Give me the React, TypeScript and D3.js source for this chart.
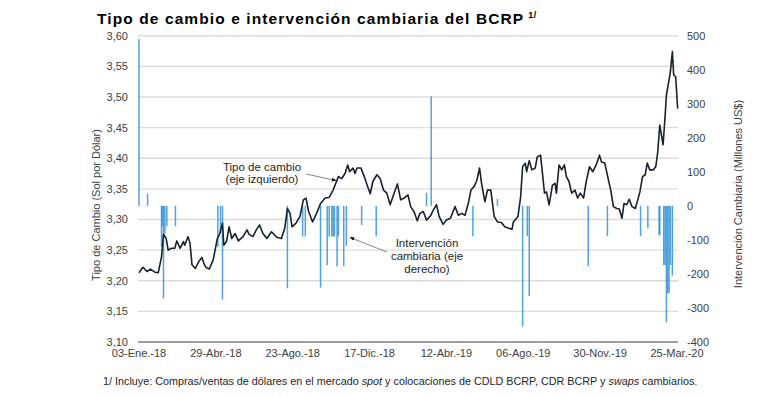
import React from "react";
import * as d3 from "d3";

// Tipo de cambio (Sol por Dólar) – eje izquierdo
const rateData: [string, number][] = [
  ["2018-01-03", 3.213], ["2018-01-09", 3.222], ["2018-01-15", 3.215], ["2018-01-20", 3.219],
  ["2018-01-27", 3.214], ["2018-02-01", 3.213], ["2018-02-06", 3.239], ["2018-02-09", 3.276],
  ["2018-02-13", 3.269], ["2018-02-16", 3.25], ["2018-02-21", 3.253], ["2018-02-26", 3.253],
  ["2018-03-01", 3.265], ["2018-03-06", 3.253], ["2018-03-11", 3.264], ["2018-03-13", 3.258],
  ["2018-03-18", 3.272], ["2018-03-21", 3.261], ["2018-03-24", 3.226], ["2018-03-29", 3.22],
  ["2018-04-03", 3.231], ["2018-04-08", 3.238], ["2018-04-11", 3.228], ["2018-04-14", 3.222],
  ["2018-04-19", 3.219], ["2018-04-25", 3.234], ["2018-05-01", 3.268], ["2018-05-05", 3.277],
  ["2018-05-09", 3.294], ["2018-05-11", 3.258], ["2018-05-15", 3.264], ["2018-05-19", 3.288],
  ["2018-05-23", 3.269], ["2018-05-28", 3.277], ["2018-06-02", 3.265], ["2018-06-09", 3.272],
  ["2018-06-15", 3.283], ["2018-06-18", 3.276], ["2018-06-24", 3.272], ["2018-06-29", 3.283],
  ["2018-07-04", 3.291], ["2018-07-09", 3.277], ["2018-07-15", 3.269], ["2018-07-22", 3.28],
  ["2018-07-30", 3.271], ["2018-08-06", 3.269], ["2018-08-11", 3.286], ["2018-08-15", 3.318],
  ["2018-08-19", 3.31], ["2018-08-22", 3.288], ["2018-08-28", 3.294], ["2018-09-03", 3.305],
  ["2018-09-08", 3.332], ["2018-09-12", 3.335], ["2018-09-16", 3.313], ["2018-09-22", 3.296],
  ["2018-09-28", 3.31], ["2018-10-04", 3.326], ["2018-10-11", 3.335], ["2018-10-17", 3.336],
  ["2018-10-23", 3.348], ["2018-10-31", 3.37], ["2018-11-05", 3.367], ["2018-11-10", 3.375],
  ["2018-11-14", 3.389], ["2018-11-17", 3.378], ["2018-11-22", 3.384], ["2018-11-25", 3.375],
  ["2018-11-28", 3.384], ["2018-12-04", 3.384], ["2018-12-09", 3.37], ["2018-12-14", 3.354],
  ["2018-12-18", 3.342], ["2018-12-22", 3.362], ["2018-12-28", 3.373], ["2019-01-02", 3.367],
  ["2019-01-07", 3.348], ["2019-01-12", 3.343], ["2019-01-17", 3.324], ["2019-01-23", 3.343],
  ["2019-01-28", 3.358], ["2019-02-02", 3.332], ["2019-02-07", 3.335], ["2019-02-13", 3.34],
  ["2019-02-17", 3.321], ["2019-02-22", 3.313], ["2019-02-27", 3.298], ["2019-03-03", 3.31],
  ["2019-03-08", 3.313], ["2019-03-13", 3.299], ["2019-03-19", 3.306], ["2019-03-23", 3.315],
  ["2019-03-28", 3.324], ["2019-04-01", 3.305], ["2019-04-07", 3.292], ["2019-04-12", 3.299],
  ["2019-04-18", 3.302], ["2019-04-25", 3.321], ["2019-04-30", 3.307], ["2019-05-05", 3.31],
  ["2019-05-10", 3.307], ["2019-05-15", 3.326], ["2019-05-19", 3.348], ["2019-05-24", 3.354],
  ["2019-05-28", 3.364], ["2019-06-01", 3.384], ["2019-06-04", 3.359], ["2019-06-09", 3.329],
  ["2019-06-13", 3.348], ["2019-06-18", 3.348], ["2019-06-23", 3.305], ["2019-06-28", 3.296],
  ["2019-07-04", 3.295], ["2019-07-09", 3.288], ["2019-07-14", 3.286], ["2019-07-20", 3.284],
  ["2019-07-22", 3.296], ["2019-07-29", 3.305], ["2019-08-02", 3.337], ["2019-08-05", 3.386],
  ["2019-08-09", 3.392], ["2019-08-11", 3.378], ["2019-08-15", 3.396], ["2019-08-19", 3.381],
  ["2019-08-24", 3.384], ["2019-08-27", 3.402], ["2019-09-01", 3.405], ["2019-09-04", 3.375],
  ["2019-09-07", 3.343], ["2019-09-10", 3.345], ["2019-09-14", 3.324], ["2019-09-19", 3.356],
  ["2019-09-23", 3.359], ["2019-09-25", 3.343], ["2019-09-29", 3.389], ["2019-10-03", 3.381],
  ["2019-10-07", 3.389], ["2019-10-10", 3.37], ["2019-10-14", 3.362], ["2019-10-18", 3.343],
  ["2019-10-23", 3.348], ["2019-10-27", 3.335], ["2019-10-31", 3.343], ["2019-11-05", 3.335],
  ["2019-11-09", 3.362], ["2019-11-14", 3.386], ["2019-11-19", 3.378], ["2019-11-24", 3.389],
  ["2019-11-29", 3.405], ["2019-12-02", 3.394], ["2019-12-07", 3.392], ["2019-12-12", 3.367],
  ["2019-12-16", 3.348], ["2019-12-20", 3.321], ["2019-12-25", 3.318], ["2019-12-29", 3.317],
  ["2020-01-02", 3.302], ["2020-01-05", 3.326], ["2020-01-09", 3.324], ["2020-01-13", 3.333],
  ["2020-01-17", 3.321], ["2020-01-22", 3.318], ["2020-01-25", 3.329], ["2020-01-29", 3.345],
  ["2020-02-02", 3.37], ["2020-02-06", 3.373], ["2020-02-09", 3.392], ["2020-02-13", 3.381],
  ["2020-02-18", 3.381], ["2020-02-22", 3.386], ["2020-02-25", 3.411], ["2020-02-28", 3.454],
  ["2020-03-04", 3.422], ["2020-03-07", 3.468], ["2020-03-09", 3.503], ["2020-03-13", 3.528],
  ["2020-03-15", 3.541], ["2020-03-18", 3.574], ["2020-03-20", 3.536], ["2020-03-23", 3.533],
  ["2020-03-26", 3.481],
];

// Intervención cambiaria (Millones US$) – eje derecho
const interventionData: [string, number][] = [
  ["2018-01-03", 490], ["2018-01-16", 35], ["2018-02-06", -120], ["2018-02-07", -60],
  ["2018-02-09", -272], ["2018-02-11", -80], ["2018-02-14", -60], ["2018-02-27", -60],
  ["2018-05-02", -120], ["2018-05-06", -80], ["2018-05-09", -275], ["2018-08-15", -242],
  ["2018-09-07", -90], ["2018-09-11", -90], ["2018-10-04", -240], ["2018-10-14", -174],
  ["2018-10-17", -90], ["2018-10-21", -90], ["2018-10-23", -90], ["2018-10-25", -90],
  ["2018-10-29", -178], ["2018-10-31", -90], ["2018-11-08", -177], ["2018-11-12", -118],
  ["2018-12-05", -56], ["2018-12-27", -89], ["2019-03-13", 38], ["2019-03-20", 322],
  ["2019-05-22", -89], ["2019-06-28", 20], ["2019-08-05", -354], ["2019-08-12", -89],
  ["2019-08-15", -265], ["2019-11-12", -177], ["2019-12-11", -89], ["2020-01-30", -89],
  ["2020-02-10", -66], ["2020-02-27", -86], ["2020-02-28", -86], ["2020-03-05", -174],
  ["2020-03-07", -174], ["2020-03-09", -342], ["2020-03-11", -257], ["2020-03-13", -257],
  ["2020-03-15", -174], ["2020-03-18", -205],
];

const leftTicks = [3.1, 3.15, 3.2, 3.25, 3.3, 3.35, 3.4, 3.45, 3.5, 3.55, 3.6];
const rightTicks = [-400, -300, -200, -100, 0, 100, 200, 300, 400, 500];
const xTickDates = ["2018-01-03", "2018-04-29", "2018-08-23", "2018-12-17", "2019-04-12", "2019-08-06", "2019-11-30", "2020-03-25"];
const xTickLabels = ["03-Ene.-18", "29-Abr.-18", "23-Ago.-18", "17-Dic.-18", "12-Abr.-19", "06-Ago.-19", "30-Nov.-19", "25-Mar.-20"];

const FONT = "'Liberation Sans', Arial, Helvetica, sans-serif";

export default function App() {
  const W = 780, H = 398;
  const parse = d3.timeParse("%Y-%m-%d");
  const left = 139, right = 677, top = 35.7, bottom = 342;
  const x = d3.scaleTime().domain([parse("2018-01-03")!, parse("2020-03-25")!]).range([left, right]);
  const yL = d3.scaleLinear().domain([3.1, 3.6]).range([bottom, top]);
  const yR = d3.scaleLinear().domain([-400, 500]).range([bottom, top]);

  const line = d3.line<[string, number]>()
    .x(d => x(parse(d[0])!))
    .y(d => yL(d[1]));

  const fmtL = (v: number) => d3.format(".2f")(v).replace(".", ",");
  const textColor = "#404040";

  return (
    <svg width={W} height={H} style={{ position: "absolute", left: 0, top: 0, background: "#fff" }} fontFamily={FONT}>
      <defs>
        <marker id="arr" viewBox="0 0 10 10" refX="9" refY="5" markerWidth="6" markerHeight="6" orient="auto-start-reverse">
          <path d="M0,1 L10,5 L0,9 z" fill="#111" />
        </marker>
      </defs>
      <rect x={0} y={0} width={W} height={H} fill="#fff" />
      {/* title */}
      <text x={97} y={24} fontSize={15.5} fontWeight="bold" fill="#000" letterSpacing={1.1}>
        Tipo de cambio e intervención cambiaria del BCRP
        <tspan dx={4} dy={-6} fontSize={9} letterSpacing={0.5}>1/</tspan>
      </text>

      {/* gridlines */}
      {leftTicks.slice(1).map(t => (
        <line key={t} x1={left - 1} x2={right + 1} y1={yL(t)} y2={yL(t)} stroke="#dcdcdc" strokeWidth={1.4} />
      ))}

      {/* bars */}
      {interventionData.map(([d, v], i) => {
        const cx = x(parse(d)!);
        const y0 = yR(0), y1 = yR(v);
        return (
          <rect key={i} x={cx - 0.75} width={1.5} y={Math.min(y0, y1)} height={Math.abs(y1 - y0)} fill="#2a8fd6" fillOpacity={0.82} />
        );
      })}

      {/* line */}
      <path d={line(rateData) || ""} fill="none" stroke="#17212f" strokeWidth={1.6} strokeLinejoin="round" />

      {/* baseline */}
      <line x1={left - 1} x2={right + 1} y1={bottom} y2={bottom} stroke="#808080" strokeWidth={1.4} />

      {/* left axis labels */}
      {leftTicks.map(t => (
        <text key={t} x={128} y={yL(t) + 4} fontSize={11} textAnchor="end" fill={textColor}>{fmtL(t)}</text>
      ))}
      {/* right axis labels */}
      {rightTicks.map(t => (
        <text key={t} x={687} y={yR(t) + 4} fontSize={11} textAnchor="start" fill={textColor}>{t}</text>
      ))}
      {/* x labels */}
      {xTickDates.map((d, i) => (
        <text key={d} x={x(parse(d)!)} y={357} fontSize={11} textAnchor="middle" fill={textColor}>{xTickLabels[i]}</text>
      ))}

      {/* axis titles */}
      <text transform="translate(100,205) rotate(-90)" fontSize={11} textAnchor="middle" fill={textColor}>Tipo de Cambio (Sol por Dólar)</text>
      <text transform="translate(742,194) rotate(-90)" fontSize={11} textAnchor="middle" fill={textColor}>Intervención Cambiaria (Millones US$)</text>

      {/* annotations */}
      <text x={262} y={170.5} fontSize={11.5} textAnchor="middle" fill="#262626">Tipo de cambio</text>
      <text x={262} y={183} fontSize={11.5} textAnchor="middle" fill="#262626">(eje izquierdo)</text>
      <line x1={306} y1={174} x2={336} y2={180.5} stroke="#666" strokeWidth={0.8} markerEnd="url(#arr)" />

      <text x={427} y={247} fontSize={11.5} textAnchor="middle" fill="#262626">Intervención</text>
      <text x={427} y={260} fontSize={11.5} textAnchor="middle" fill="#262626">cambiaria (eje</text>
      <text x={427} y={273} fontSize={11.5} textAnchor="middle" fill="#262626">derecho)</text>
      <line x1={387} y1={252} x2={350} y2={237.5} stroke="#666" strokeWidth={0.8} markerEnd="url(#arr)" />

      {/* footnote */}
      <text x={103} y={385} fontSize={10.8} fill="#262626">
        1/ Incluye: Compras/ventas de dólares en el mercado <tspan fontStyle="italic">spot</tspan> y colocaciones de CDLD BCRP, CDR BCRP y <tspan fontStyle="italic">swaps</tspan> cambiarios.
      </text>
    </svg>
  );
}
